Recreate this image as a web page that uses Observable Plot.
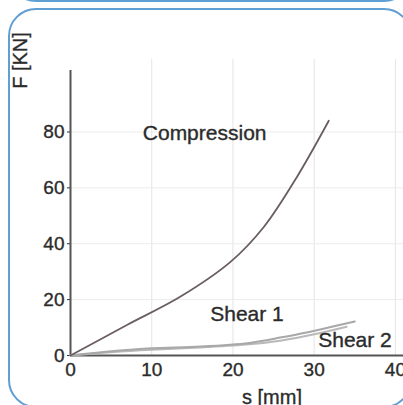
<!DOCTYPE html>
<html>
<head>
<meta charset="utf-8">
<script src="https://cdn.jsdelivr.net/npm/d3@7"></script>
<script src="https://cdn.jsdelivr.net/npm/@observablehq/plot@0.6"></script>
<style>
  html, body { margin: 0; padding: 0; background: #fff; overflow: hidden; }
  #wrap { position: relative; width: 403px; height: 405px; overflow: hidden; }
  .box { position: absolute; border: 2px solid #5f9fd3; border-radius: 28px; box-sizing: border-box; pointer-events: none; }
  #wrap svg text { stroke: #2b2b2b; stroke-width: 0.35px; }
</style>
</head>
<body>
<div id="wrap">
  <div class="box" style="left:8px; top:8px; width:404px; height:400px;"></div>
  <div class="box" style="left:8px; top:-398px; width:404px; height:400px;"></div>
</div>
<script>
// Data
const compS = [0, 7, 13.5, 19.7, 23.8, 27.9, 31.8];
const compF = [0, 11, 21, 33.5, 46, 64, 84];
const shear1S = [0, 5, 10, 16, 22, 26, 28, 31, 35];
const shear1F = [0, 1.5, 2.6, 3.2, 4.5, 6.5, 7.6, 9.5, 12.2];
const shear2S = [0, 5, 10, 16, 22, 26, 30, 34];
const shear2F = [0, 1.2, 2.1, 2.9, 4, 5.4, 7.6, 10.3];
const xTicks = [0, 10, 20, 30, 40];
const yTicks = [0, 20, 40, 60, 80];
const labels = [
  {text: "Compression", s: 8.9, f: 79.6},
  {text: "Shear 1", s: 17.2, f: 14.7},
  {text: "Shear 2", s: 30.5, f: 5.4}
];
const xTitle = "s [mm]";
const yTitle = "F [KN]";

const comp = compS.map((s, i) => ({s, f: compF[i]}));
const sh1 = shear1S.map((s, i) => ({s, f: shear1F[i]}));
const sh2 = shear2S.map((s, i) => ({s, f: shear2F[i]}));

const font = "'Liberation Sans', Arial, sans-serif";

const chart = Plot.plot({
  width: 403,
  height: 405,
  marginLeft: 70,
  marginRight: 0,
  marginTop: 70,
  marginBottom: 50,
  style: {fontFamily: font, fontSize: "19px", color: "#2b2b2b", background: "transparent", overflow: "visible"},
  x: {domain: [0, 41]},
  y: {domain: [0, 102]},
  marks: [
    Plot.gridX(xTicks.slice(1), {stroke: "#e4e4e4", strokeOpacity: 1, y1: 0, y2: 106}),
    Plot.gridY(yTicks.slice(1), {stroke: "#ececec", strokeOpacity: 1}),
    Plot.axisX(xTicks, {tickSize: 0, tickPadding: 7, label: null, fontSize: 19}),
    Plot.axisY(yTicks, {tickSize: 3, tickPadding: 3, label: null, fontSize: 19}),
    Plot.ruleY([0], {stroke: "#555", strokeWidth: 2}),
    Plot.ruleX([0], {stroke: "#555", strokeWidth: 2}),
    Plot.line(sh2, {x: "s", y: "f", stroke: "#b9b9b9", strokeWidth: 2, curve: "catmull-rom"}),
    Plot.line(sh1, {x: "s", y: "f", stroke: "#a8a8a8", strokeWidth: 2, curve: "catmull-rom"}),
    Plot.line(comp, {x: "s", y: "f", stroke: "#6a5d62", strokeWidth: 1.8, curve: "catmull-rom"}),
    Plot.text(labels, {x: "s", y: "f", text: "text", textAnchor: "start", lineAnchor: "middle", fontSize: 21, fill: "#2b2b2b", style: "letter-spacing:0.8px"}),
    Plot.text([xTitle], {frameAnchor: "bottom", dx: 35, dy: 34, lineAnchor: "top", fontSize: 20, fill: "#2b2b2b"}),
    Plot.text([yTitle], {frameAnchor: "top-left", dx: -50, dy: -10, rotate: -90, textAnchor: "middle", lineAnchor: "middle", fontSize: 20, fill: "#2b2b2b"})
  ]
});
document.getElementById("wrap").insertBefore(chart, document.getElementById("wrap").firstChild);
</script>
</body>
</html>
